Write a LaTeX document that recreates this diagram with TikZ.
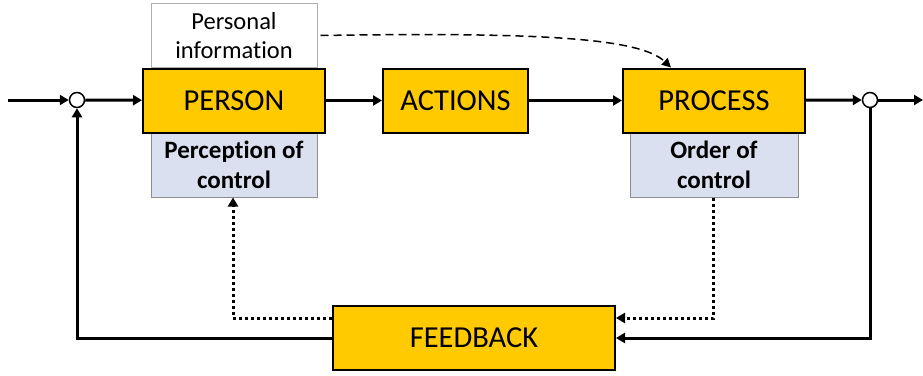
\documentclass[tikz,border=0pt]{standalone}
\usepackage{fontspec}
\setmainfont{Carlito}[Ligatures=NoCommon]
\usetikzlibrary{arrows.meta}
\definecolor{boxyellow}{HTML}{FFCA00}
\definecolor{boxblue}{HTML}{DAE0EF}
\definecolor{boxgrey}{HTML}{8C8C8C}
\tikzset{
  block/.style={draw=black, line width=2pt, fill=boxyellow, minimum height=64pt,
    inner sep=0pt, font=\fontsize{30.5}{34}\selectfont},
  subbox/.style={draw=boxgrey, line width=1pt, fill=boxblue, minimum height=64pt,
    minimum width=166pt, inner sep=0pt, align=center,
    font=\fontsize{25}{29.5}\selectfont\bfseries},
  infobox/.style={draw=boxgrey!70, line width=1pt, fill=white, minimum height=64pt,
    minimum width=166pt, inner sep=0pt, align=center,
    font=\fontsize{24.5}{29.5}\selectfont},
  junction/.style={circle, draw=black, line width=1.5pt, fill=white,
    minimum size=15pt, inner sep=0pt},
  flow/.style={line width=3pt, -{Triangle[length=9pt,width=10pt]}},
  dottedflow/.style={line width=3pt, dash pattern=on 3pt off 3pt,
    -{Triangle[length=9pt,width=10pt]}},
  infoflow/.style={line width=1.5pt, dash pattern=on 8pt off 5pt,
    -{Triangle[length=9pt,width=9pt]}},
}
\begin{document}
\begin{tikzpicture}[x=1pt,y=-1pt]
\useasboundingbox (0,0) rectangle (923,375);

% side boxes drawn first so the main blocks' borders stay on top
\node[infobox] (info) at (234,35.5) {Personal\\information};
\node[subbox] (perc) at (234,165) {Perception of\\control};
\node[subbox, minimum width=168pt] (order) at (714,165) {Order of\\control};

% main blocks
\node[block, minimum width=182pt] (person) at (234,100.5) {PERSON};
\node[block, minimum width=145pt] (actions) at (455.5,100.5) {ACTIONS};
\node[block, minimum width=182pt] (process) at (714,100.5) {PROCESS};
\node[block, minimum width=282pt] (feedback) at (474,338) {FEEDBACK};

% summing junctions and loose ends
\node[junction] (sumin) at (77,100) {};
\node[junction] (sumout) at (870,100) {};
\coordinate (input) at (8,100);
\coordinate (output) at (923,100);

% forward path
\draw[flow] (input) -- (sumin);
\draw[flow] (sumin) -- (person);
\draw[flow] (person) -- (actions);
\draw[flow] (actions) -- (process);
\draw[flow] (process) -- (sumout);
\draw[flow] (sumout) -- (output);

% feedback loop
\draw[flow] (sumout.south) |- (feedback.east);
\draw[flow] (feedback.west) -| (sumin.south);

% dotted information paths
\draw[dottedflow] ([xshift=-1pt]order.south) |- ([yshift=20pt]feedback.east);
\draw[dottedflow] ([yshift=20pt]feedback.west) -| ([xshift=-1pt]perc.south);

% personal information acting on the process
\draw[infoflow] ([xshift=3pt]info.east) .. controls (540,32) and (640,38) .. ([xshift=-43pt]process.north);
\end{tikzpicture}
\end{document}
